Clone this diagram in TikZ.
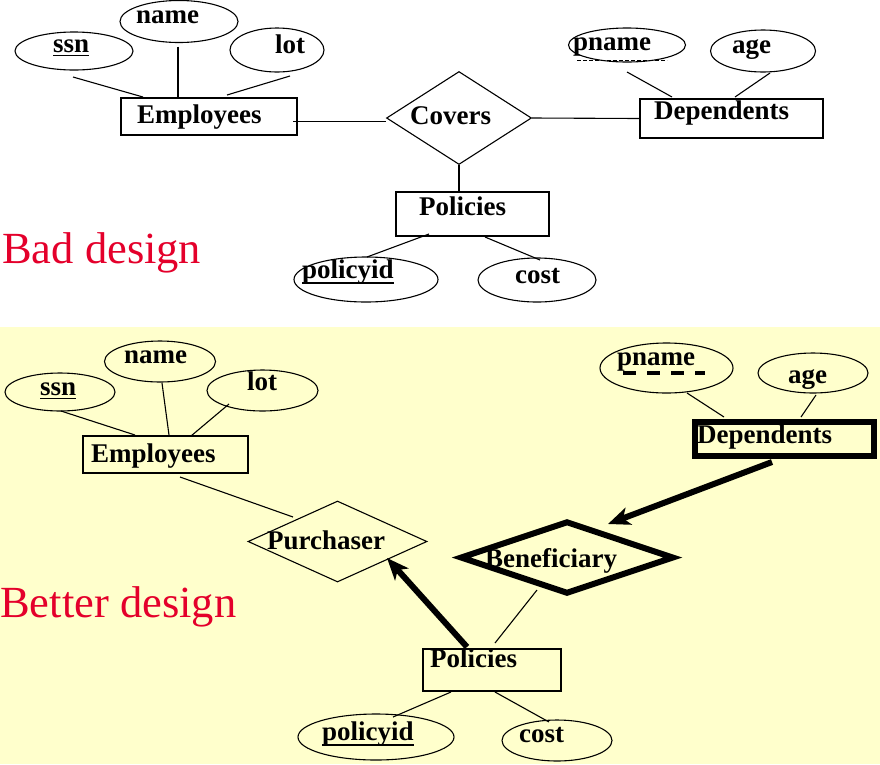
\documentclass[tikz,border=0pt]{standalone}
\usepackage{fontspec}
\setmainfont{Liberation Serif}
\usetikzlibrary{shapes.geometric,arrows.meta,calc}
\definecolor{badred}{RGB}{228,0,43}
\definecolor{paleyellow}{RGB}{255,255,204}
\begin{document}
\begin{tikzpicture}[x=1pt,y=-1pt,
  attr/.style={ellipse,draw,line width=1.1pt,inner sep=0pt},
  entity/.style={rectangle,draw,line width=1.1pt,inner sep=0pt},
  rel/.style={diamond,draw,line width=1.1pt,inner sep=0pt},
  lbl/.style={anchor=base west,inner sep=0pt,font=\fontsize{27}{30}\selectfont\bfseries},
  heading/.style={anchor=base west,inner sep=0pt,text=badred,font=\fontsize{44.5}{50}\selectfont},
  link/.style={line width=1.1pt},
  uline/.style={line width=1.6pt},
  heavyarrow/.style={line width=6pt,-{Stealth[length=22pt,width=18pt,inset=6pt]}}
]
\useasboundingbox (0,0) rectangle (880,764);
\fill[paleyellow] (0,327) rectangle (880,764);

% ---------------- Bad design ----------------
\node[attr,minimum width=118pt,minimum height=38pt] (ssn1) at (74,51) {};
\node[attr,minimum width=118pt,minimum height=42pt] (name1) at (179,21.5) {};
\node[attr,minimum width=94pt,minimum height=44pt] (lot1) at (277,50) {};
\node[entity,minimum width=176pt,minimum height=37pt] (emp1) at (209,116.5) {};
\node[rel,minimum width=145pt,minimum height=93pt] (cov) at (459,118) {};
\node[entity,minimum width=183pt,minimum height=39pt] (dep1) at (731.5,118.5) {};
\node[attr,minimum width=117pt,minimum height=34pt] (pname1) at (627,45) {};
\node[attr,minimum width=105pt,minimum height=42pt] (age1) at (763,51) {};
\node[entity,minimum width=153pt,minimum height=44pt] (pol1) at (472.5,214) {};
\node[attr,minimum width=144pt,minimum height=45pt] (pid1) at (366,279.5) {};
\node[attr,minimum width=118pt,minimum height=44pt] (cost1) at (537,280) {};

\draw[link] ($(ssn1.center)+(-1,26)$) -- ($(emp1.center)+(-66,-19.5)$);
\draw[link] ($(name1.center)+(-1,25)$) -- ($(emp1.center)+(-31,-19.5)$);
\draw[link] ($(lot1.center)+(13,26)$) -- ($(emp1.center)+(18,-21.5)$);
\draw[link] ($(emp1.center)+(84,5)$) -- ($(cov.west)+(0,3.5)$);
\draw[link] (cov.east) -- (dep1.west);
\draw[link] ($(pname1.center)+(0,27)$) -- ($(dep1.center)+(-59.5,-21.5)$);
\draw[link] ($(age1.center)+(7,22)$) -- ($(dep1.center)+(3.5,-21.5)$);
\draw[link] (cov.south) -- ($(pol1.center)+(-13.5,-22)$);
\draw[link] ($(pol1.center)+(-43.5,20)$) -- ($(pid1.center)+(1,-22.5)$);
\draw[link] ($(pol1.center)+(12.5,23)$) -- ($(cost1.center)+(3,-20)$);

\node[lbl] (tname1) at (136,23) {name};
\node[lbl] (tssn1) at (53,52) {ssn};
\node[lbl] (tlot1) at (275,53) {lot};
\node[lbl] (temp1) at (137,123) {Employees};
\node[lbl] (tcov) at (410,124) {Covers};
\node[lbl] (tpol1) at (419,215) {Policies};
\node[lbl] (tpid1) at (302,278) {policyid};
\node[lbl] (tcost1) at (515,283) {cost};
\node[lbl] (tpname1) at (573,50) {pname};
\node[lbl] (tage1) at (732,53) {age};
\node[lbl] (tdep1) at (654,119) {Dependents};

\draw[uline] ($(tssn1.base west)+(0,3.5)$) -- ($(tssn1.base east)+(0,3.5)$);
\draw[uline] ($(tpid1.base west)+(0,5)$) -- ($(tpid1.base east)+(0,5)$);
\draw[line width=1pt,dash pattern=on 4pt off 2pt] ($(tpname1.base west)+(4,10)$) -- ($(tpname1.base west)+(94,10)$);

\node[heading] (bad) at (2,263) {Bad design};

% ---------------- Better design ----------------
\node[attr,minimum width=110pt,minimum height=38pt] (ssn2) at (60,392) {};
\node[attr,minimum width=111pt,minimum height=41pt] (name2) at (160,361.5) {};
\node[attr,minimum width=111pt,minimum height=41pt] (lot2) at (262.5,390.5) {};
\node[entity,minimum width=165pt,minimum height=37pt] (emp2) at (165.5,454.5) {};
\node[rel,minimum width=179pt,minimum height=81pt] (pur) at (337.5,541.5) {};
\node[rel,line width=6pt,minimum width=214pt,minimum height=73pt] (ben) at (567,557.5) {};
\node[entity,line width=6pt,minimum width=179pt,minimum height=34pt] (dep2) at (784.5,439) {};
\node[attr,minimum width=133pt,minimum height=50pt] (pname2) at (666.5,368) {};
\node[attr,minimum width=110pt,minimum height=40pt] (age2) at (813,373) {};
\node[entity,minimum width=138pt,minimum height=42pt] (pol2) at (492,670) {};
\node[attr,minimum width=156pt,minimum height=46pt] (pid2) at (376,737) {};
\node[attr,minimum width=110pt,minimum height=41pt] (cost2) at (557,740.5) {};

\draw[link] ($(ssn2.center)+(1,19)$) -- ($(emp2.center)+(-30.5,-19.5)$);
\draw[link] ($(name2.center)+(2,21.5)$) -- ($(emp2.center)+(3.5,-19.5)$);
\draw[link] ($(lot2.center)+(-33.5,13.5)$) -- ($(emp2.center)+(25.5,-18.5)$);
\draw[link] ($(emp2.center)+(14.5,22.5)$) -- ($(pur.center)+(-44.5,-24.5)$);
\draw[link] ($(pname2.center)+(20.5,25)$) -- ($(dep2.center)+(-60.5,-22)$);
\draw[link] ($(age2.center)+(3,22)$) -- ($(dep2.center)+(16.5,-22)$);
\draw[heavyarrow] ($(dep2.center)+(-12.5,23)$) -- ($(ben.center)+(41,-33.5)$);
\draw[heavyarrow] ($(pol2.center)+(-25,-23)$) -- ($(pur.center)+(49.5,16.5)$);
\draw[link] ($(ben.center)+(-30,32.5)$) -- ($(pol2.center)+(3,-27)$);
\draw[link] ($(pol2.center)+(-41,22)$) -- ($(pid2.center)+(17,-20)$);
\draw[link] ($(pol2.center)+(3,22)$) -- ($(cost2.center)+(-8,-18.5)$);

\node[lbl] (tname2) at (124,363) {name};
\node[lbl] (tssn2) at (40,395) {ssn};
\node[lbl] (tlot2) at (247,390) {lot};
\node[lbl] (temp2) at (91,462) {Employees};
\node[lbl] (tpur) at (267,549) {Purchaser};
\node[lbl] (tben) at (485,567) {Beneficiary};
\node[lbl] (tdep2) at (697,443) {Dependents};
\node[lbl] (tpname2) at (617,365) {pname};
\node[lbl] (tage2) at (788,383) {age};
\node[lbl] (tpol2) at (430,667) {Policies};
\node[lbl] (tpid2) at (322,740) {policyid};
\node[lbl] (tcost2) at (519,742) {cost};

\draw[uline] ($(tssn2.base west)+(0,3.5)$) -- ($(tssn2.base east)+(0,3.5)$);
\draw[uline] ($(tpid2.base west)+(0,5)$) -- ($(tpid2.base east)+(0,5)$);
\draw[line width=4pt,dash pattern=on 13pt off 11pt] ($(tpname2.base west)+(6,8)$) -- ($(tpname2.base west)+(88,8)$);

\node[heading] (better) at (0,617) {Better design};
\end{tikzpicture}
\end{document}
